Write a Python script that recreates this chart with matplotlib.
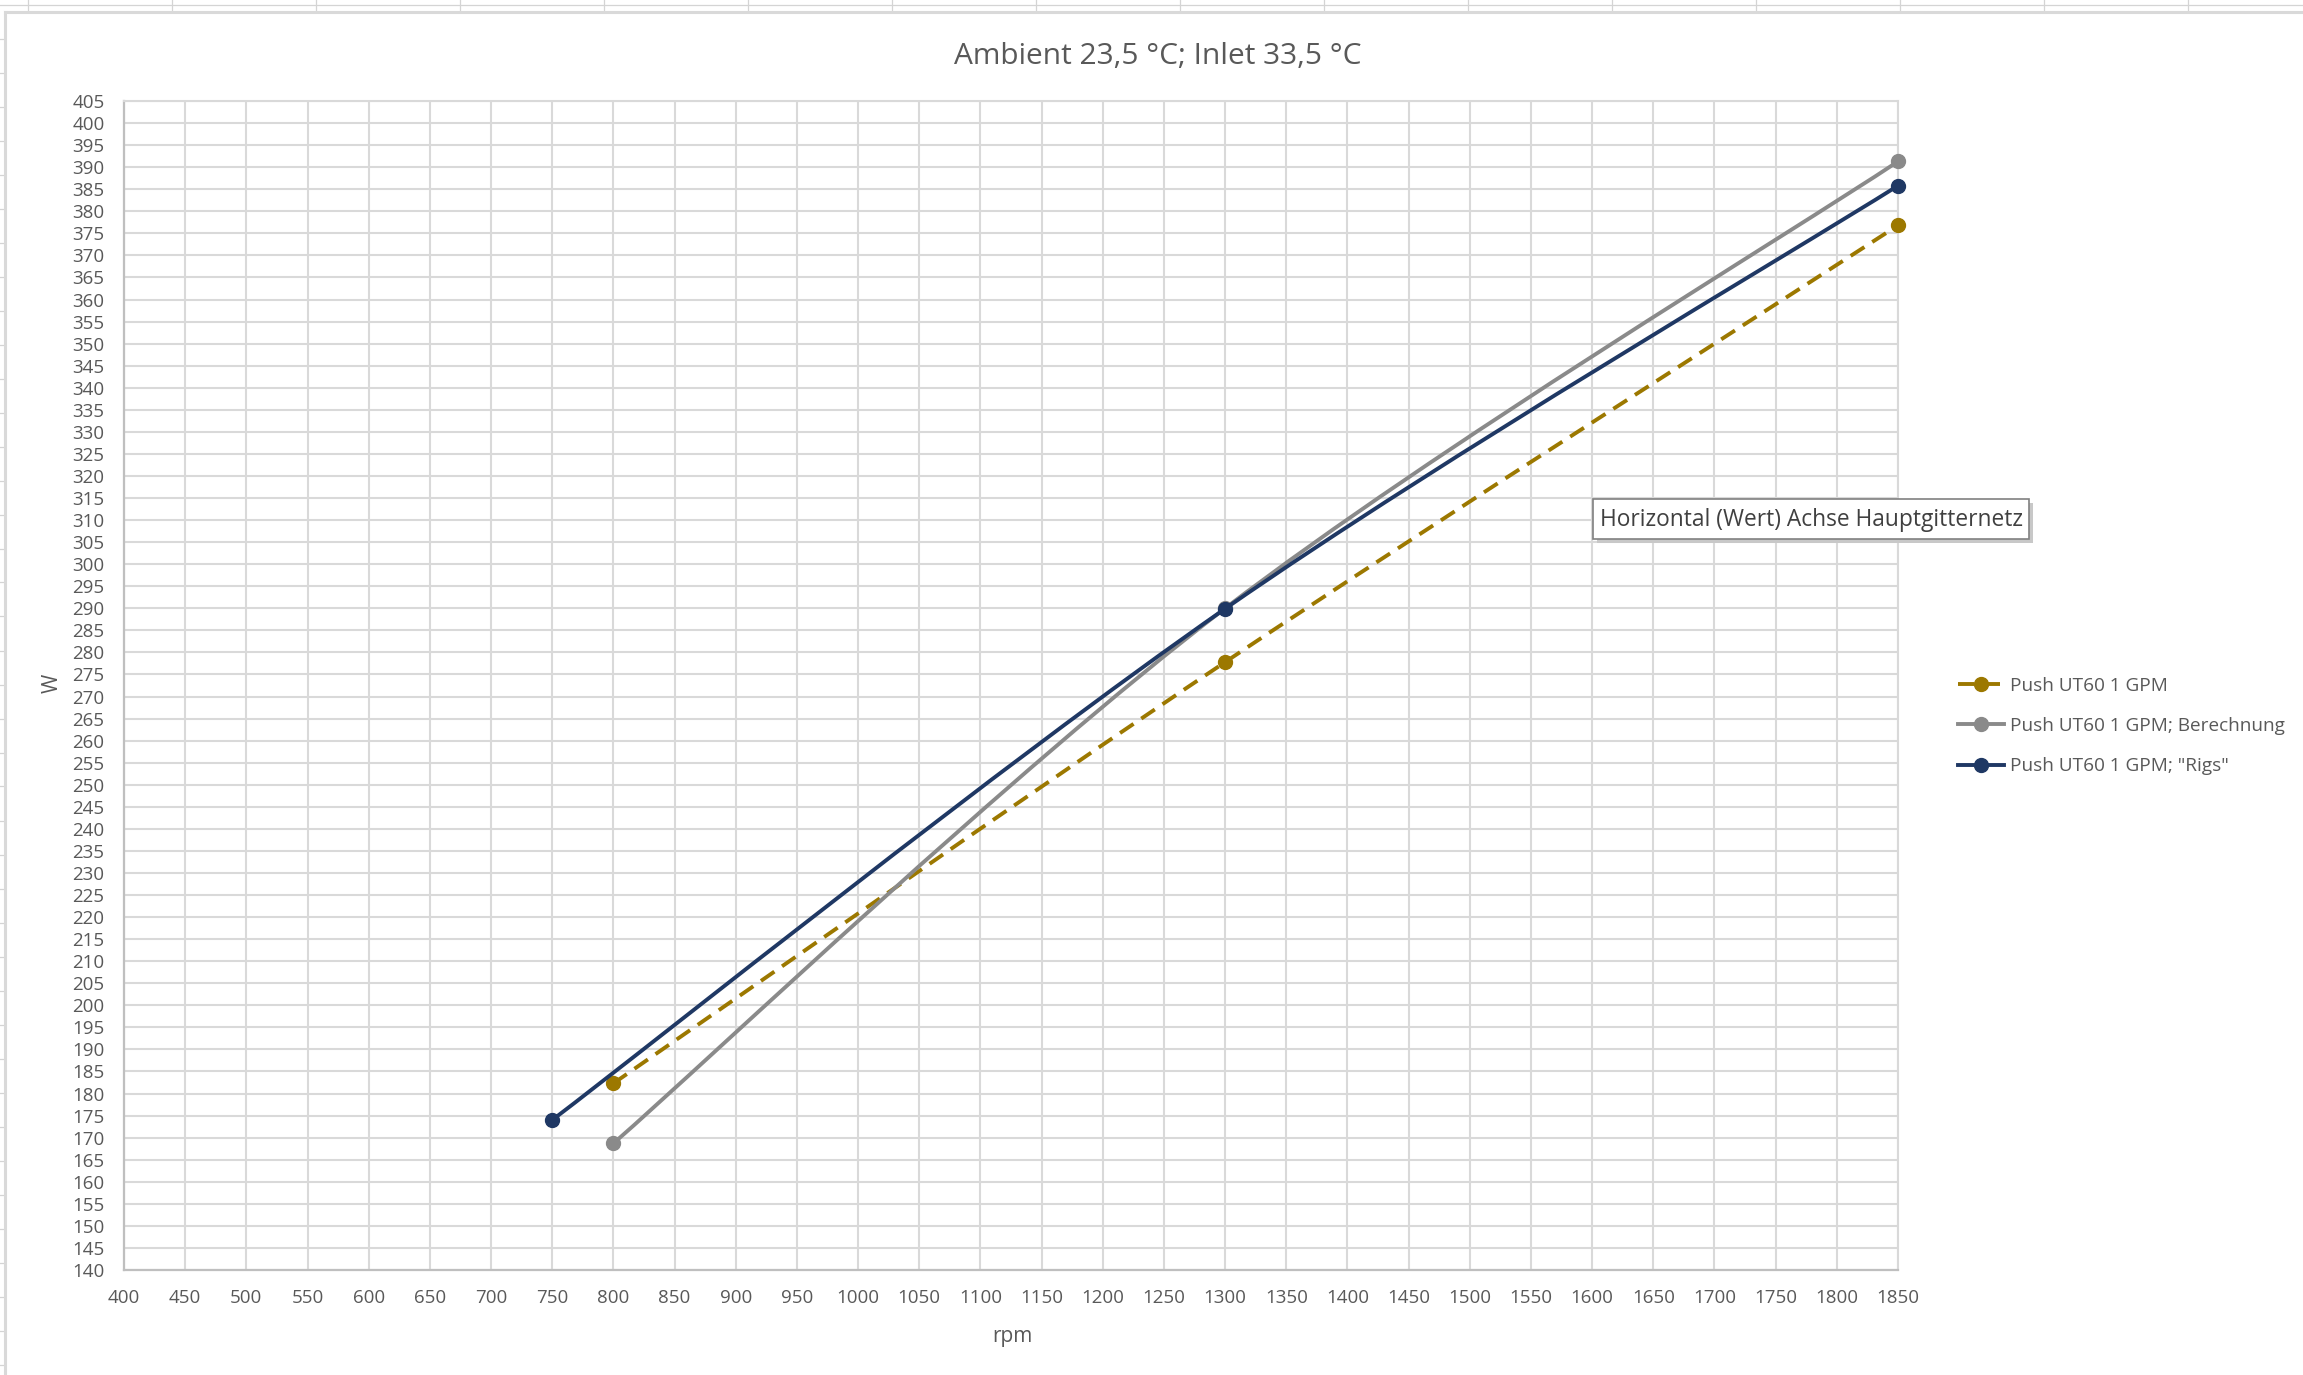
import matplotlib
matplotlib.use("Agg")
import matplotlib.pyplot as plt
from matplotlib.path import Path
from matplotlib.patches import PathPatch, Rectangle
from matplotlib.lines import Line2D

# ---------------- data ----------------
title = "Ambient 23,5 °C; Inlet 33,5 °C"
x_label = "rpm"
y_label = "W"

series_names = ["Push UT60 1 GPM", "Push UT60 1 GPM; Berechnung", 'Push UT60 1 GPM; "Rigs"']
rpm_gold = [800, 1300, 1850]
w_gold = [182.3, 277.8, 376.8]
rpm_gray = [800, 1300, 1850]
w_gray = [168.7, 290.0, 391.3]
rpm_blue = [750, 1300, 1850]
w_blue = [174.0, 289.9, 385.8]

x_ticks = list(range(400, 1851, 50))
y_ticks = list(range(140, 406, 5))
tooltip_text = "Horizontal (Wert) Achse Hauptgitternetz"

# ---------------- style ----------------
W, H = 2303, 1375
DPI = 100
FONT = ["Open Sans", "DejaVu Sans"]
plt.rcParams["font.family"] = FONT
TXT = "#595959"
GRID = "#d9d9d9"

def fx(px):
    return px / W

def fy(py):
    return 1 - py / H

fig = plt.figure(figsize=(W / DPI, H / DPI), dpi=DPI, facecolor="white")

# spreadsheet background lines (outside chart area)
for xc in range(28, W, 144):
    fig.add_artist(Line2D([fx(xc), fx(xc)], [fy(0), fy(12)], color="#d4d4d4", lw=0.9))
fig.add_artist(Line2D([0, 1], [fy(4.5), fy(4.5)], color="#d4d4d4", lw=0.9))
for yc in range(38, H, 34):
    fig.add_artist(Line2D([0, fx(5)], [fy(yc + 0.5), fy(yc + 0.5)], color="#d4d4d4", lw=0.9))
# chart area border
fig.add_artist(Line2D([fx(5), fx(5)], [fy(12), 0], color=GRID, lw=2.2))
fig.add_artist(Line2D([fx(5), 1], [fy(12), fy(12)], color=GRID, lw=2.2))

ax = fig.add_axes([fx(124), fy(1270), fx(1898) - fx(124), fy(101) - fy(1270)])
ax.set_xlim(400, 1850)
ax.set_ylim(140, 405)
ax.set_xticks(x_ticks)
ax.set_yticks(y_ticks)
ax.grid(True, color=GRID, lw=1.5, zorder=0)
ax.set_axisbelow(True)
ax.tick_params(axis="both", length=0, labelsize=13.5, labelcolor=TXT)
ax.tick_params(axis="y", pad=14)
ax.tick_params(axis="x", pad=14)
for s in ["top", "right"]:
    ax.spines[s].set_color(GRID)
    ax.spines[s].set_linewidth(1.5)
for s in ["left", "bottom"]:
    ax.spines[s].set_color("#bfbfbf")
    ax.spines[s].set_linewidth(1.6)


def smooth_path(xs, ys):
    pts = list(zip(xs, ys))
    n = len(pts)
    verts = [pts[0]]
    codes = [Path.MOVETO]
    for i in range(n - 1):
        p0 = pts[i - 1] if i > 0 else pts[i]
        p1 = pts[i]
        p2 = pts[i + 1]
        p3 = pts[i + 2] if i + 2 < n else pts[i + 1]
        c1 = (p1[0] + (p2[0] - p0[0]) / 6, p1[1] + (p2[1] - p0[1]) / 6)
        c2 = (p2[0] - (p3[0] - p1[0]) / 6, p2[1] - (p3[1] - p1[1]) / 6)
        verts += [c1, c2, p2]
        codes += [Path.CURVE4, Path.CURVE4, Path.CURVE4]
    return Path(verts, codes)


colors = ["#9c7800", "#8a8a8a", "#1f3864"]
styles = [(0, (4.2, 2.4)), "solid", "solid"]
data = [(rpm_gold, w_gold), (rpm_gray, w_gray), (rpm_blue, w_blue)]
LW = 2.8
MS = 10
handles = []
for (xs, ys), c, ls, name, z in zip(data, colors, styles, series_names, [3, 4, 5]):
    patch = PathPatch(smooth_path(xs, ys), facecolor="none", edgecolor=c, lw=LW,
                      linestyle=ls, zorder=z, clip_on=False)
    ax.add_patch(patch)
    ax.plot(xs, ys, linestyle="none", marker="o", ms=MS, color=c, zorder=z + 0.5, clip_on=False)
    handles.append(Line2D([], [], color=c, lw=LW, linestyle=ls, marker="o", ms=MS, label=name))

ax.set_xlabel(x_label, fontsize=15, color=TXT)
ax.set_ylabel(y_label, fontsize=15, color=TXT)
ax.xaxis.set_label_coords((1012 - 124) / (1898 - 124), (1270 - 1326) / (1270 - 101))
ax.yaxis.set_label_coords((63 - 124) / (1898 - 124), (1270 - 683) / (1270 - 101))

fig.text(fx(1158), fy(56), title, ha="center", va="center", fontsize=21.5, color=TXT)

leg = fig.legend(handles=handles, loc="center left", bbox_to_anchor=(fx(1958), fy(726)),
                 bbox_transform=fig.transFigure, frameon=False, fontsize=13.7,
                 handlelength=2.4, handletextpad=0.35, labelspacing=1.17,
                 borderpad=0, borderaxespad=0)
for t in leg.get_texts():
    t.set_color(TXT)

# tooltip
bx0, by0, bx1, by1 = 1593, 499, 2029, 539
fig.add_artist(Rectangle((fx(bx0 + 4), fy(by1 + 4)), fx(bx1 - bx0), fy(by0) - fy(by1),
                         transform=fig.transFigure, facecolor="#c8c8c8", edgecolor="none", zorder=20))
fig.add_artist(Rectangle((fx(bx0), fy(by1)), fx(bx1 - bx0), fy(by0) - fy(by1),
                         transform=fig.transFigure, facecolor="white", edgecolor="#808080", lw=1.2, zorder=21))
fig.text(fx((bx0 + bx1) / 2), fy((by0 + by1) / 2 + 1), tooltip_text, ha="center", va="center",
         fontsize=16.4, color="#404040", zorder=22)

fig.savefig("out.png", dpi=DPI, facecolor="white")
